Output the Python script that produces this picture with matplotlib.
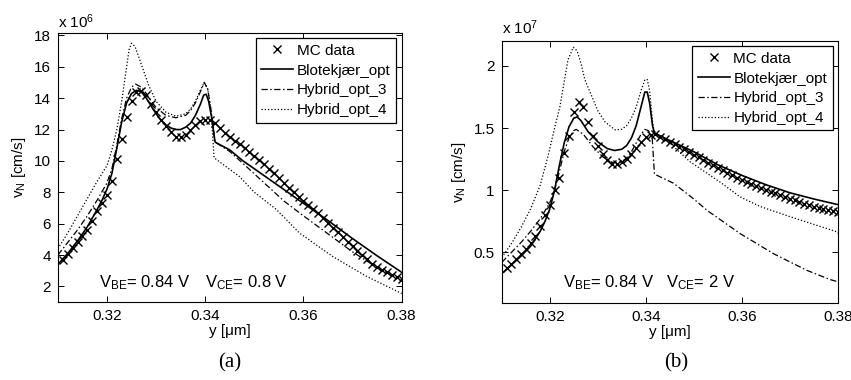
import numpy as np
import matplotlib
matplotlib.use("Agg")
import matplotlib.pyplot as plt

plt.rcParams['font.family'] = ['Liberation Sans', 'DejaVu Sans']
plt.rcParams['mathtext.fontset'] = 'custom'
plt.rcParams['mathtext.rm'] = 'Liberation Sans'
plt.rcParams['mathtext.it'] = 'Liberation Sans:italic'
plt.rcParams['font.size'] = 11

# ---------------- data (a): VBE=0.84 V, VCE=0.8 V, values x 1e6 cm/s
mc_x = [0.311, 0.312, 0.313, 0.314, 0.315, 0.316, 0.317, 0.318, 0.319, 0.320,
        0.321, 0.322, 0.323, 0.324, 0.325, 0.326, 0.327, 0.328, 0.329, 0.330,
        0.331, 0.332, 0.333, 0.334, 0.335, 0.336, 0.337, 0.338, 0.339, 0.340,
        0.341, 0.342, 0.343, 0.344, 0.345, 0.346, 0.347, 0.348, 0.349, 0.350,
        0.351, 0.352, 0.353, 0.354, 0.355, 0.356, 0.357, 0.358, 0.359, 0.360,
        0.361, 0.362, 0.363, 0.364, 0.365, 0.366, 0.367, 0.368, 0.369, 0.370,
        0.371, 0.372, 0.373, 0.374, 0.375, 0.376, 0.377, 0.378, 0.379, 0.380]
mc_a = [3.7, 4.05, 4.45, 4.8, 5.2, 5.6, 6.15, 6.8, 7.3, 7.85,
        8.75, 10.1, 11.4, 12.8, 13.8, 14.4, 14.45, 14.2, 13.6, 13.1,
        12.6, 12.2, 11.85, 11.55, 11.5, 11.65, 11.95, 12.3, 12.55, 12.6,
        12.6, 12.4, 12.1, 11.8, 11.55, 11.3, 11.05, 10.8, 10.55, 10.3,
        10.05, 9.8, 9.5, 9.2, 8.9, 8.6, 8.3, 8.0, 7.7, 7.45,
        7.2, 6.95, 6.65, 6.35, 6.05, 5.75, 5.45, 5.15, 4.85, 4.55,
        4.25, 3.98, 3.72, 3.46, 3.22, 3.05, 2.9, 2.75, 2.6, 2.45]

blo_a_x = [0.310, 0.312, 0.314, 0.316, 0.318, 0.319, 0.320, 0.321, 0.322, 0.323,
           0.324, 0.325, 0.326, 0.327, 0.328, 0.329, 0.330, 0.331, 0.332, 0.333,
           0.334, 0.335, 0.336, 0.337, 0.338, 0.339, 0.3397, 0.3402, 0.3407, 0.3413,
           0.342, 0.345, 0.3477, 0.350, 0.355, 0.360, 0.365, 0.370, 0.375, 0.380]
blo_a = [3.4, 4.1, 4.9, 5.8, 6.9, 7.5, 8.2, 9.2, 10.8, 12.5,
         13.7, 14.3, 14.5, 14.4, 14.0, 13.5, 13.0, 12.6, 12.3, 12.1,
         12.0, 12.0, 12.15, 12.4, 12.9, 13.6, 14.2, 14.25, 13.8, 12.8,
         11.2, 10.7, 10.0, 9.5, 8.4, 7.3, 6.2, 5.05, 3.95, 2.9]

h3_a_x = [0.310, 0.312, 0.314, 0.316, 0.318, 0.320, 0.321, 0.322, 0.323, 0.324,
          0.325, 0.3258, 0.327, 0.328, 0.329, 0.330, 0.332, 0.334, 0.336, 0.337,
          0.338, 0.339, 0.3398, 0.3405, 0.3412, 0.342, 0.345, 0.348, 0.352, 0.356,
          0.360, 0.365, 0.370, 0.375, 0.380]
h3_a = [4.0, 4.8, 5.6, 6.5, 7.5, 8.6, 9.5, 11.0, 12.7, 14.0,
        14.7, 14.9, 14.7, 14.3, 13.8, 13.4, 12.9, 12.75, 12.9, 13.2,
        13.7, 14.4, 15.0, 14.6, 13.2, 11.2, 10.6, 9.75, 8.6, 7.45,
        6.5, 5.35, 4.2, 3.2, 2.35]

h4_a_x = [0.310, 0.312, 0.314, 0.316, 0.318, 0.320, 0.321, 0.322, 0.323, 0.324,
          0.3245, 0.325, 0.3257, 0.3265, 0.3275, 0.3285, 0.330, 0.332, 0.334, 0.336,
          0.337, 0.338, 0.339, 0.3398, 0.3405, 0.3412, 0.3418, 0.347, 0.350, 0.3545,
          0.3592, 0.366, 0.3728, 0.380]
h4_a = [4.4, 5.4, 6.5, 7.6, 8.7, 9.7, 10.7, 12.0, 13.8, 16.0,
        17.1, 17.5, 17.3, 16.6, 15.7, 14.8, 13.8, 13.1, 12.85, 13.0,
        13.3, 13.8, 14.5, 15.0, 14.6, 13.2, 10.2, 9.0, 8.0, 6.9,
        5.4, 3.9, 2.65, 1.55]

# ---------------- data (b): VBE=0.84 V, VCE=2 V, values x 1e7 cm/s
mc_b = [0.375, 0.41, 0.45, 0.49, 0.525, 0.575, 0.635, 0.715, 0.80, 0.885,
        1.0, 1.1, 1.3, 1.44, 1.63, 1.71, 1.67, 1.55, 1.44, 1.36,
        1.29, 1.24, 1.215, 1.21, 1.225, 1.255, 1.295, 1.34, 1.39, 1.43,
        1.445, 1.45, 1.43, 1.41, 1.39, 1.37, 1.35, 1.33, 1.31, 1.285,
        1.265, 1.24, 1.22, 1.20, 1.18, 1.16, 1.14, 1.12, 1.10, 1.085,
        1.068, 1.052, 1.036, 1.02, 1.004, 0.99, 0.975, 0.96, 0.946, 0.932,
        0.918, 0.905, 0.892, 0.88, 0.869, 0.858, 0.848, 0.838, 0.83, 0.822]

blo_b_x = [0.310, 0.312, 0.314, 0.316, 0.318, 0.319, 0.320, 0.321, 0.322, 0.323,
           0.324, 0.325, 0.3257, 0.3265, 0.328, 0.330, 0.332, 0.3335, 0.335, 0.336,
           0.337, 0.338, 0.339, 0.3398, 0.3403, 0.3408, 0.3414, 0.3418, 0.345, 0.350,
           0.355, 0.360, 0.365, 0.370, 0.375, 0.380]
blo_b = [0.33, 0.40, 0.47, 0.55, 0.67, 0.75, 0.85, 1.0, 1.2, 1.38,
         1.51, 1.58, 1.59, 1.56, 1.47, 1.39, 1.335, 1.32, 1.33, 1.36,
         1.42, 1.52, 1.67, 1.79, 1.79, 1.70, 1.52, 1.46, 1.40, 1.31,
         1.205, 1.12, 1.045, 0.98, 0.93, 0.885]

h3_b_x = [0.310, 0.312, 0.314, 0.316, 0.318, 0.320, 0.321, 0.322, 0.323, 0.324,
          0.325, 0.3255, 0.327, 0.329, 0.331, 0.333, 0.334, 0.335, 0.336, 0.337,
          0.338, 0.339, 0.3398, 0.3405, 0.3413, 0.3418, 0.3458, 0.350, 0.3527, 0.3596,
          0.3666, 0.3735, 0.3784, 0.380]
h3_b = [0.42, 0.50, 0.58, 0.67, 0.77, 0.90, 1.0, 1.15, 1.31, 1.42,
        1.48, 1.49, 1.45, 1.35, 1.27, 1.225, 1.22, 1.23, 1.26, 1.31,
        1.38, 1.45, 1.49, 1.48, 1.44, 1.13, 1.056, 0.93, 0.84, 0.653,
        0.49, 0.357, 0.282, 0.265]

h4_b_x = [0.310, 0.312, 0.314, 0.316, 0.318, 0.3196, 0.321, 0.3221, 0.3238, 0.3249,
          0.3257, 0.3265, 0.3273, 0.330, 0.3315, 0.3336, 0.335, 0.336, 0.337, 0.338,
          0.339, 0.3398, 0.3403, 0.3408, 0.3414, 0.3418, 0.345, 0.3492, 0.3555, 0.3596,
          0.3638, 0.3701, 0.3798, 0.380]
h4_b = [0.46, 0.57, 0.70, 0.85, 1.04, 1.27, 1.50, 1.67, 2.05, 2.15,
        2.12, 2.02, 1.89, 1.64, 1.55, 1.486, 1.49, 1.52, 1.58, 1.67,
        1.80, 1.89, 1.89, 1.80, 1.55, 1.45, 1.38, 1.23, 1.065, 0.948,
        0.87, 0.787, 0.666, 0.655]

series_labels = ['MC data', 'Blotekjær_opt', 'Hybrid_opt_3', 'Hybrid_opt_4']

DASHDOT = (0, (5, 2, 1.2, 2))
DOTTED = (0, (1.0, 1.6))


def draw_panel(ax, mc, blo_x, blo, h3_x, h3, h4_x, h4):
    ax.plot(mc_x, mc, linestyle='none', marker='x', color='black',
            markersize=5.5, markeredgewidth=1.0, label=series_labels[0])
    ax.plot(blo_x, blo, color='black', linewidth=1.2, linestyle='-', label=series_labels[1])
    ax.plot(h3_x, h3, color='black', linewidth=0.9, linestyle=DASHDOT, label=series_labels[2])
    ax.plot(h4_x, h4, color='black', linewidth=0.9, linestyle=DOTTED, label=series_labels[3])
    ax.set_xlim(0.31, 0.38)
    ax.set_xticks([0.32, 0.34, 0.36, 0.38])
    ax.set_xticklabels(['0.32', '0.34', '0.36', '0.38'])
    ax.tick_params(direction='in', top=True, right=True, length=4, width=0.7, pad=5)
    for s in ax.spines.values():
        s.set_linewidth(0.8)
    ax.set_xlabel('y [μm]', labelpad=1)
    ax.set_ylabel(r'v$_{\rm N}$ [cm/s]', labelpad=4)
    leg = ax.legend(loc='upper right', fancybox=False, edgecolor='black',
                    framealpha=1, borderpad=0.35, labelspacing=0.38,
                    handlelength=2.1, handletextpad=0.25, borderaxespad=0.35,
                    fontsize=11)
    leg.get_frame().set_linewidth(0.9)


fig = plt.figure(figsize=(8.51, 3.8), dpi=100)

# panel (a)
ax1 = fig.add_axes([0.068, 0.205, 0.404, 0.708])
draw_panel(ax1, mc_a, blo_a_x, blo_a, h3_a_x, h3_a, h4_a_x, h4_a)
ax1.set_ylim(1, 18.15)
ax1.set_yticks([2, 4, 6, 8, 10, 12, 14, 16, 18])
ax1.text(0.0, 1.008, r'x 10$^6$', transform=ax1.transAxes, ha='left', va='bottom')
ax1.text(0.12, 0.055, r'V$_{\rm BE}$= 0.84 V', transform=ax1.transAxes, ha='left',
         va='baseline', fontsize=12)
ax1.text(0.428, 0.055, r'V$_{\rm CE}$= 0.8 V', transform=ax1.transAxes, ha='left',
         va='baseline', fontsize=12)
fig.text(0.27, 0.045, '(a)', family='Liberation Serif', fontsize=15, ha='center', va='center')

# panel (b)
ax2 = fig.add_axes([0.5896, 0.203, 0.395, 0.689])
draw_panel(ax2, mc_b, blo_b_x, blo_b, h3_b_x, h3_b, h4_b_x, h4_b)
ax2.set_ylim(0.095, 2.2)
ax2.set_yticks([0.5, 1, 1.5, 2])
ax2.set_yticklabels(['0.5', '1', '1.5', '2'])
ax2.text(0.0, 1.015, r'x 10$^7$', transform=ax2.transAxes, ha='left', va='bottom')
ax2.text(0.183, 0.06, r'V$_{\rm BE}$= 0.84 V', transform=ax2.transAxes, ha='left',
         va='baseline', fontsize=12)
ax2.text(0.49, 0.06, r'V$_{\rm CE}$= 2 V', transform=ax2.transAxes, ha='left',
         va='baseline', fontsize=12)
fig.text(0.795, 0.045, '(b)', family='Liberation Serif', fontsize=15, ha='center', va='center')

plt.savefig('out.png', dpi=100)
